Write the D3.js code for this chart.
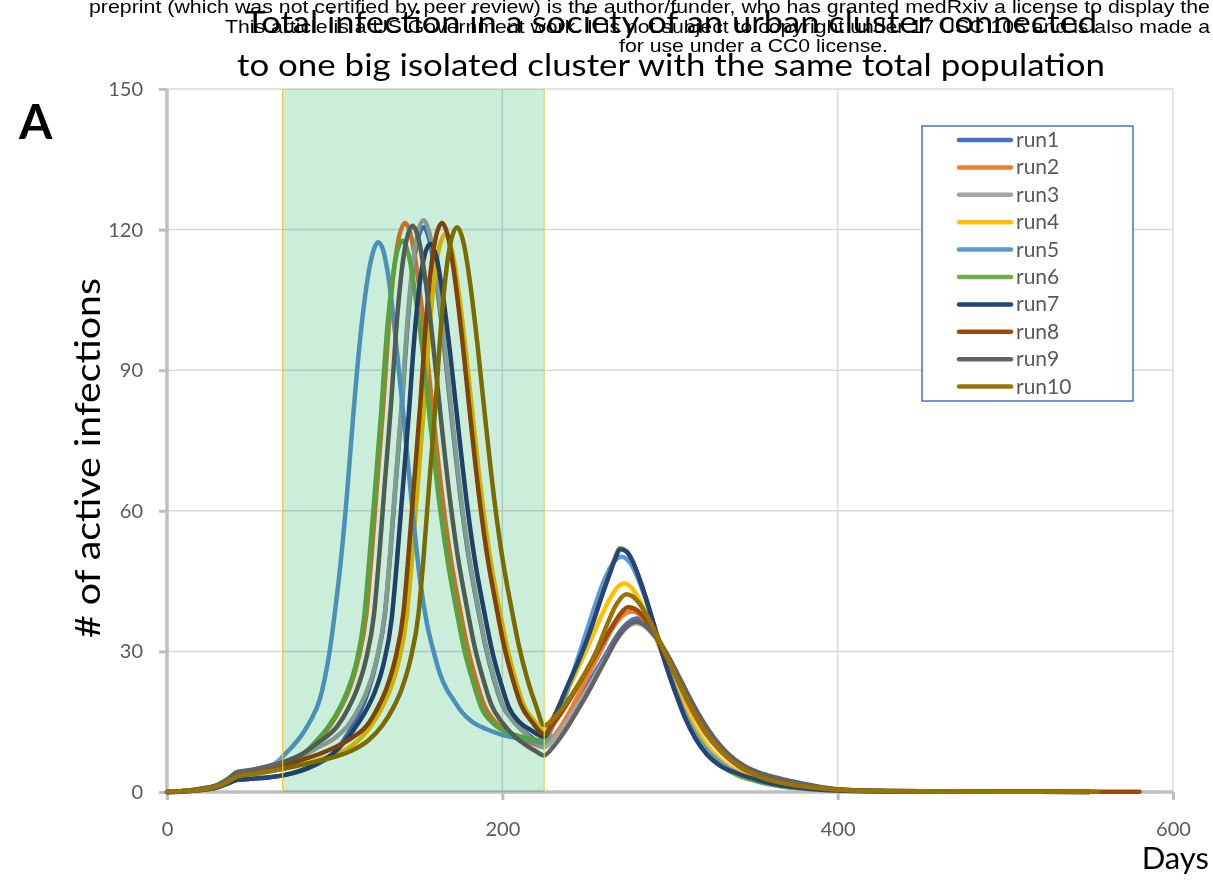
<!DOCTYPE html>
<html>
<head>
<meta charset="utf-8">
<script src="https://cdn.jsdelivr.net/npm/d3@7"></script>
<style>
  html, body { margin: 0; padding: 0; background: #ffffff; }
  svg { display: block; }
</style>
</head>
<body>
<svg id="chart" width="1213" height="880"></svg>
<script>
// ---------------- DATA ----------------
const seriesNames = ["run1","run2","run3","run4","run5","run6","run7","run8","run9","run10"];
const seriesColors = ["#4472C4","#ED7D31","#A5A5A5","#FFC000","#5B9BD5","#70AD47","#264478","#9E480E","#636363","#997300"];
const xTicks = [0, 200, 400, 600];
const yTicks = [0, 30, 60, 90, 120, 150];
const shadeRange = [69, 225];

const titleLines = ["Total infection in a society of an urban cluster connected",
                    "to one big isolated cluster with the same total population"];
const watermarkLines = [
  "preprint (which was not certified by peer review) is the author/funder, who has granted medRxiv a license to display the",
  "This article is a US Government work. It is not subject to copyright under 17 USC 105 and is also made a",
  "for use under a CC0 license."
];

// [day, active infections]
const run1 = [[0,0],[10,0.1],[20,0.4],[30,1.0],[36,1.8],[42,2.6],[50,2.8],[60,3.1],[70,3.6],[80,4.5],[90,6],[100,8.5],[108,12.5],[115,17],[120,21.5],[125,28],[130,38],[133,50],[136,64],[140,82],[144,102],[148,115],[153,120.5],[157,117],[161,108],[165,96],[170,79],[175,63],[180,50],[185,40],[190,31],[195,24],[200,18.6],[207,15],[215,12.3],[220,11],[225,10],
  [230,11.6],[235,13.8],[240,16.4],[245,19.2],[250,22.2],[255,25.3],[262,29.5],[268,33.2],[274,35.8],[280,37],[286,36],[292,33.2],[298,29.6],[304,25.4],[310,21],[318,15.5],[326,11],[334,7.6],[344,4.8],[355,3],[371,1.6],[385,0.9],[400,0.45],[430,0.15],[470,0.08],[520,0.04],[550,0.02]];
const run2 = [[0,0],[10,0.2],[20,0.6],[30,1.4],[36,2.5],[42,3.9],[50,4.3],[60,5.0],[70,5.8],[80,7.5],[88,10],[97,14],[104,18.2],[109,22.2],[114,28.2],[119,38.2],[122,50.4],[125,64.3],[129,82.5],[133,102.7],[137,115.8],[142,121.4],[146,117.9],[150,108.8],[154,96.8],[159,79.6],[164,63.5],[169,50.4],[174,40.3],[179,31.2],[184,24.3],[189,18.7],[197,14.5],[207,12],[217,10.5],[225,9.6],
  [230,11.5],[235,14],[240,17],[245,20.5],[250,24],[255,27.5],[260,31],[265,34.5],[270,37],[277,38.5],[283,37.5],[289,34.5],[295,30.5],[300,27],[305,23],[310,19.3],[315,16],[320,13],[327,9.8],[335,7],[345,4.6],[355,3.1],[365,2.1],[380,1.2],[400,0.5],[430,0.2],[470,0.1],[520,0.05],[550,0.03]];
const run3 = [[0,0],[10,0.2],[20,0.7],[30,1.5],[36,2.7],[42,4.2],[50,4.6],[60,5.4],[70,6.3],[80,7.6],[90,9.5],[100,11.5],[108,14.2],[115,18.3],[120,22.3],[125,28.3],[130,38.4],[133,50.6],[136,64.7],[140,83],[144,103.2],[148,116.4],[153,122],[157,118.5],[161,109.3],[165,97.2],[170,80],[175,63.8],[180,50.6],[185,40.5],[190,31.4],[195,24.4],[200,18.8],[207,15],[215,12],[220,10.6],[225,9.5],
  [230,11],[235,13.2],[240,15.8],[245,18.6],[250,21.5],[255,24.5],[262,28.8],[268,32.4],[274,35],[280,36],[286,35],[292,32.6],[298,29.4],[304,25.5],[310,21.3],[318,16],[326,11.7],[334,8.4],[344,5.6],[355,3.8],[371,2.3],[385,1.3],[400,0.6],[430,0.2],[470,0.1],[520,0.05],[550,0.03]];
const run4 = [[0,0],[10,0.2],[20,0.5],[30,1.2],[36,2.1],[42,3.3],[50,3.8],[60,4.4],[70,5],[80,5.8],[90,6.8],[100,8],[110,9.8],[121,13.8],[128,17.9],[133,21.8],[138,27.6],[143,37.5],[146,49.4],[149,63],[153,81],[157,100.7],[161,113.5],[166,119],[170,115.5],[174,106.6],[178,94.8],[183,78],[188,62.2],[193,49.4],[198,39.5],[203,30.6],[208,23.8],[213,18.3],[219,15.2],[225,13],
  [230,15.8],[235,19],[240,22.5],[245,26.3],[250,30.2],[255,34.3],[260,38.3],[265,41.8],[269,43.8],[272.5,44.5],[277,43.6],[282,40.8],[287,36.8],[292,32.4],[297,28],[302,23.6],[307,19.5],[312,15.8],[318,12],[325,8.7],[333,6],[343,3.9],[355,2.4],[368,1.5],[385,0.8],[400,0.45],[430,0.15],[470,0.08],[520,0.04],[550,0.02]];
const run5 = [[0,0],[10,0.2],[20,0.6],[30,1.3],[36,2.3],[42,3.6],[50,4.2],[60,5.3],[66,6.5],[71,8.3],[76,10.2],[81,12.5],[86,15.5],[91,19.6],[94,24],[97,30],[100,38],[103,47],[107,62],[111,80],[115,96],[119,108],[122,114],[126,117.3],[129,115.5],[132,110],[136,98],[140,84],[143,73],[147,58],[151,45],[155,36],[159,30],[163,25],[167,21.8],[171,19.6],[176,17],[182,15],[190,13.5],[200,12.2],[210,11.4],[220,10.8],[225,10.5],
  [230,14],[235,18],[240,23],[245,28.5],[250,34],[255,39.5],[260,44.5],[265,48.3],[271,50.2],[276,49],[281,45.5],[286,40.5],[291,35],[296,29.5],[301,24],[306,19.3],[311,15.2],[316,12],[322,9],[330,6.3],[340,4],[350,2.5],[360,1.6],[375,0.9],[390,0.5],[400,0.35],[430,0.15],[470,0.08],[520,0.05],[550,0.03]];
const run6 = [[0,0],[10,0.2],[20,0.5],[30,1.2],[36,2.1],[42,3.2],[50,3.6],[60,4.3],[70,5.2],[80,7.5],[88,10.5],[95.5,13.6],[102.5,17.6],[107.5,21.5],[112.5,27],[117.5,37],[120.5,49],[123.5,62],[127.5,80],[131.5,99.5],[135.5,112],[140.5,117.6],[144.5,114],[148.5,105],[152.5,94],[157.5,77],[162.5,61.5],[167.5,49],[172.5,39],[177.5,30],[182.5,23.5],[187.5,18],[195,14.5],[205,12.5],[215,11.5],[225,11],
  [230,14.5],[235,18.6],[240,23],[244,26.5],[248,30],[252,34],[256,38.3],[260,42.7],[264,46.8],[267,49.8],[270,52],[274,51.4],[278,49],[282,45.3],[286,41],[290,36.2],[295,30],[300,24.5],[305,19.6],[309,16],[315,11.8],[322,8.3],[330,5.7],[340,3.6],[353,2.2],[365,1.3],[380,0.7],[400,0.35],[430,0.12],[470,0.06],[520,0.03],[550,0.02]];
const run7 = [[0,0],[10,0.1],[20,0.4],[30,1.0],[36,1.8],[42,2.6],[50,2.8],[60,3.1],[70,3.6],[80,4.6],[90,6.2],[100,8.5],[112,13.6],[119,17.6],[124,21.4],[129,27.1],[134,36.9],[137,48.6],[140,62],[144,79.6],[148,99],[152,111.6],[157,117],[161,113.6],[165,104.8],[169,93.2],[174,76.8],[179,61.2],[184,48.6],[189,38.8],[194,30],[199,23.4],[204,18],[210,15],[217,13.2],[225,11.8],
  [230,15.3],[235,19.4],[240,23.6],[244,26.8],[248,30.2],[252,34],[256,38.2],[260,42.5],[264,46.5],[267,49.5],[270.5,51.8],[274,51.3],[278,49],[282,45.3],[286,41],[290,36.2],[295,30],[300,24.5],[305,19.5],[309,15.8],[315,11.5],[322,8],[330,5.6],[340,4],[353,2.5],[365,1.5],[380,0.8],[400,0.3],[430,0.12],[470,0.06],[520,0.03],[550,0.02]];
const run8 = [[0,0],[10,0.2],[20,0.6],[30,1.4],[36,2.5],[42,3.8],[50,4.2],[60,5.0],[70,5.8],[80,6.8],[90,8],[100,9.5],[110,11.5],[119,14.1],[126,18.2],[131,22.2],[136,28.2],[141,38.2],[144,50.4],[147,64.3],[151,82.5],[155,102.7],[159,115.8],[164,121.4],[168,117.9],[172,108.8],[176,96.8],[181,79.6],[186,63.5],[191,50.4],[196,40.3],[201,31.2],[206,24.3],[211,18.7],[218,14.8],[225,12.3],
  [230,14.3],[235,16.8],[240,19.6],[245,22.6],[250,25.7],[255,28.8],[260,32],[265,35],[270,37.8],[275,39.4],[281,38.6],[287,36],[293,32.3],[299,28],[305,23.5],[311,19.3],[317,15.5],[323,12.2],[330,9.2],[338,6.5],[348,4.3],[358,2.8],[372,1.7],[388,0.9],[400,0.55],[430,0.2],[470,0.1],[520,0.06],[555,0.04],[580,0.03]];
const run9 = [[0,0],[10,0.2],[20,0.7],[30,1.5],[36,2.7],[42,4.3],[50,4.7],[60,5.5],[70,6.5],[80,8],[90,10.5],[101.5,14],[108.5,18.1],[113.5,22.1],[118.5,28],[123.5,38],[126.5,50.1],[129.5,64],[133.5,82.1],[137.5,102.2],[141.5,115.2],[146.5,120.8],[150.5,117.3],[154.5,108.2],[158.5,96.3],[163.5,79.2],[168.5,63.2],[173.5,50.1],[178.5,40.1],[183.5,31],[188.5,24.2],[193.5,18.6],[200,14.8],[207,12],[215,9.8],[220,8.7],[225,7.8],
  [230,9.5],[235,11.8],[240,14.5],[245,17.5],[250,20.5],[255,23.8],[262,28.5],[268,32.5],[274,35.3],[280,36.3],[286,35.3],[292,32.8],[298,29.5],[304,25.5],[310,21.3],[318,16],[326,11.6],[334,8.3],[344,5.6],[355,3.9],[371,2.4],[385,1.4],[400,0.6],[430,0.2],[470,0.1],[520,0.05],[550,0.03]];
const run10 = [[0,0],[10,0.2],[20,0.5],[30,1.2],[36,2.1],[42,3.3],[50,3.8],[60,4.4],[70,5.0],[80,5.8],[90,6.6],[100,7.5],[110,8.8],[120,11],[128,14],[135,18],[140,22],[145,28],[150,38],[153,50],[156,64],[160,82],[164,102],[168,115],[173,120.5],[177,117],[181,108],[185,96],[190,79],[195,63],[200,50],[205,40],[210,31],[215,24],[220,18.5],[225,14.2],
  [230,15.5],[235,17.5],[240,20],[245,22.8],[250,25.8],[256,30],[262,35.3],[268,40],[274,42.2],[280,41],[286,37.8],[292,33.6],[298,29],[304,24.3],[310,19.8],[316,15.8],[322,12.4],[330,8.9],[338,6.3],[348,4.1],[358,2.7],[372,1.6],[388,0.85],[400,0.5],[430,0.18],[470,0.09],[520,0.05],[555,0.03]];

const seriesData = [run1, run2, run3, run4, run5, run6, run7, run8, run9, run10];

// ---------------- DRAW ----------------
const svg = d3.select("#chart");
const FONT = "Lato, 'Open Sans', 'Noto Sans', sans-serif";
const x = d3.scaleLinear().domain([0, 600]).range([167, 1173]);
const y = d3.scaleLinear().domain([0, 150]).range([792, 89]);

// gridlines
svg.append("g").selectAll("line").data(yTicks.filter(d => d > 0)).join("line")
  .attr("x1", x(0)).attr("x2", x(600))
  .attr("y1", d => y(d)).attr("y2", d => y(d))
  .attr("stroke", "#d9d9d9").attr("stroke-width", 1.5);
svg.append("g").selectAll("line").data(xTicks.filter(d => d > 0)).join("line")
  .attr("x1", d => x(d)).attr("x2", d => x(d))
  .attr("y1", y(150)).attr("y2", y(0))
  .attr("stroke", "#d9d9d9").attr("stroke-width", 1.5);

// axes (custom styled via d3 axis)
const yAxis = svg.append("g").attr("transform", `translate(${x(0)},0)`)
  .call(d3.axisLeft(y).tickValues(yTicks).tickSize(8).tickPadding(16));
const xAxis = svg.append("g").attr("transform", `translate(0,${y(0)})`)
  .call(d3.axisBottom(x).tickValues(xTicks).tickSize(8).tickPadding(22));
[yAxis, xAxis].forEach(g => {
  g.select(".domain").attr("stroke", "#bfbfbf").attr("stroke-width", 3.5);
  g.selectAll(".tick line").attr("stroke", "#bfbfbf").attr("stroke-width", 3);
  g.selectAll(".tick text").attr("fill", "#595959").attr("font-size", 20).attr("font-family", FONT);
});
yAxis.select(".domain").attr("d", `M0,${y(150)}V${y(0)}`);
xAxis.select(".domain").attr("d", `M${x(0)},0H${x(600)}`);

// lines
const line = d3.line().x(d => x(d[0])).y(d => y(d[1])).curve(d3.curveMonotoneX);
svg.append("g").selectAll("path").data(seriesData).join("path")
  .attr("d", line)
  .attr("fill", "none")
  .attr("stroke", (d, i) => seriesColors[i])
  .attr("stroke-width", 4.5)
  .attr("stroke-linejoin", "round")
  .attr("stroke-linecap", "round");

// shaded window (multiplied over the lines)
svg.append("rect")
  .attr("x", x(shadeRange[0])).attr("y", y(150))
  .attr("width", x(shadeRange[1]) - x(shadeRange[0]))
  .attr("height", y(0) - y(150))
  .attr("fill", "#cbeedb")
  .style("mix-blend-mode", "multiply");
svg.append("g").selectAll("line").data(shadeRange).join("line")
  .attr("x1", d => x(d)).attr("x2", d => x(d))
  .attr("y1", y(150)).attr("y2", y(0))
  .attr("stroke", (d, i) => i === 0 ? "#f5c232" : "#d8d86a")
  .attr("stroke-width", 1.2);

// legend
const lg = svg.append("g");
lg.append("rect").attr("x", 922).attr("y", 126).attr("width", 211).attr("height", 275)
  .attr("fill", "#ffffff").attr("stroke", "#4472C4").attr("stroke-width", 1.5);
const rows = lg.selectAll("g.row").data(seriesNames).join("g").attr("class", "row")
  .attr("transform", (d, i) => `translate(0,${140 + i * 27.4})`);
rows.append("line").attr("x1", 959).attr("x2", 1011).attr("y1", 0).attr("y2", 0)
  .attr("stroke", (d, i) => seriesColors[i]).attr("stroke-width", 4.5).attr("stroke-linecap", "round");
rows.append("text").attr("x", 1016).attr("y", 7).text(d => d)
  .attr("font-family", FONT).attr("font-size", 21).attr("fill", "#595959");

// title
svg.append("g").selectAll("text").data(titleLines).join("text")
  .attr("x", 671).attr("y", (d, i) => i === 0 ? 33 : 76)
  .attr("text-anchor", "middle")
  .attr("font-family", FONT).attr("font-size", 31).attr("fill", "#000000")
  .attr("textLength", (d, i) => i === 0 ? 852 : 868)
  .attr("lengthAdjust", "spacingAndGlyphs")
  .text(d => d);

// watermark header
const wmX = [89, 225, 619];
const wmW = [1121, 985, 269];
const wmY = [13, 33, 52];
svg.append("g").selectAll("text").data(watermarkLines).join("text")
  .attr("x", (d, i) => wmX[i]).attr("y", (d, i) => wmY[i])
  .attr("font-family", "'Liberation Sans', Arial, sans-serif").attr("font-size", 19).attr("fill", "#000000")
  .attr("textLength", (d, i) => wmW[i]).attr("lengthAdjust", "spacingAndGlyphs")
  .text(d => d);

// panel letter
svg.append("text").attr("x", 19).attr("y", 139).text("A")
  .attr("font-family", FONT).attr("font-weight", "bold").attr("font-size", 48).attr("fill", "#000");

// axis titles
svg.append("text")
  .attr("transform", "translate(100,458) rotate(-90)")
  .attr("text-anchor", "middle")
  .attr("font-family", FONT).attr("font-size", 35).attr("fill", "#000")
  .attr("textLength", 360).attr("lengthAdjust", "spacingAndGlyphs")
  .text("# of active infections");
svg.append("text").attr("x", 1209).attr("y", 869).attr("text-anchor", "end")
  .attr("font-family", FONT).attr("font-size", 31).attr("fill", "#000")
  .text("Days");
</script>
</body>
</html>
